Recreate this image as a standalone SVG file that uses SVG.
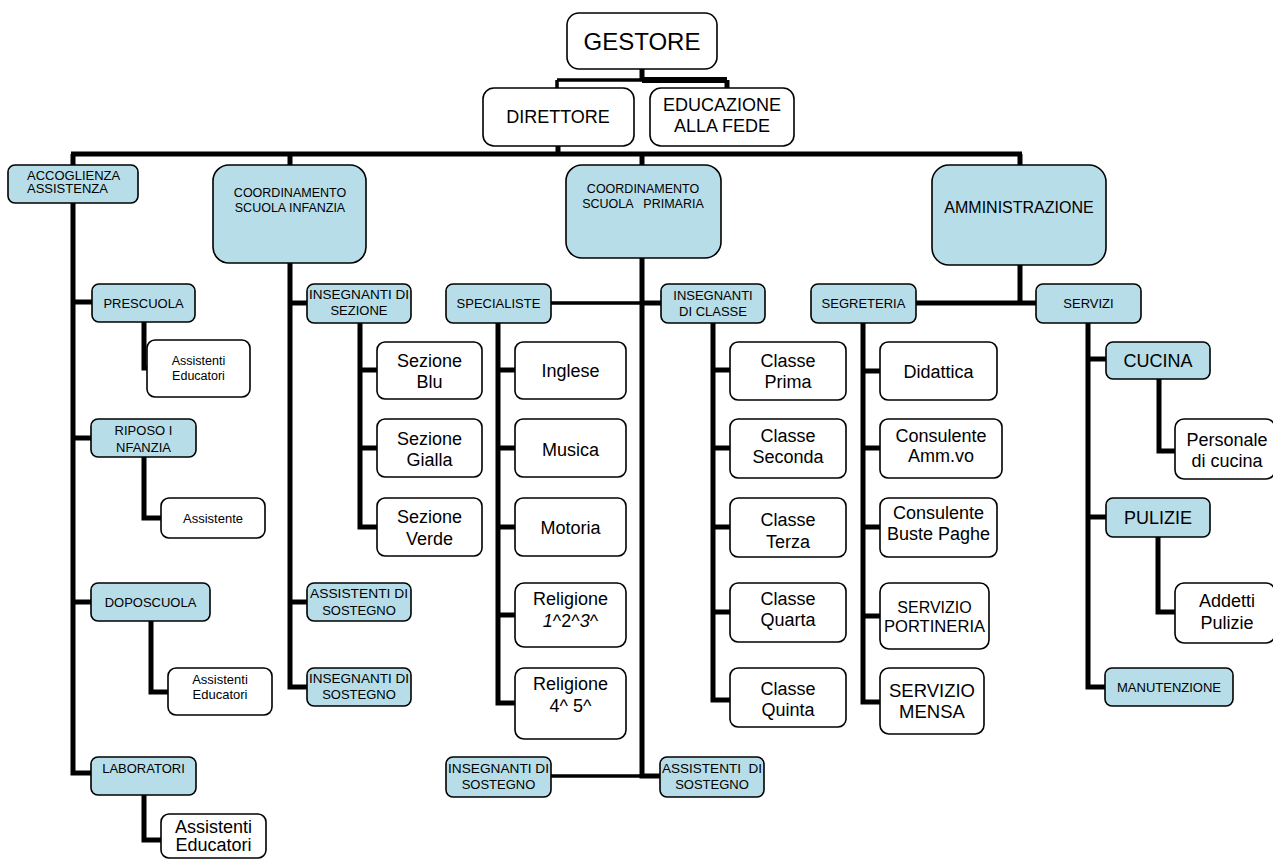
<svg xmlns="http://www.w3.org/2000/svg" width="1273" height="863" viewBox="0 0 1273 863">
<style>
.b{fill:#B7DDE8;stroke:#000;stroke-width:1.6}
.w{fill:#fff;stroke:#000;stroke-width:1.6}
.c{fill:none;stroke:#000;stroke-width:5;stroke-linejoin:miter;stroke-linecap:butt}
.th{stroke-width:3.5}
text{font-family:"Liberation Sans",Arial,sans-serif;text-anchor:middle;fill:#000}
.s12{font-size:12.5px}
.s13{font-size:13px}
.s16{font-size:16px}
.s18{font-size:18px}
.s24{font-size:24px}
</style>
<rect width="1273" height="863" fill="#fff"/>
<g id="connectors">
<path class="c" d="M642,69V80"/>
<path class="c th" d="M557,80H642"/>
<path class="c" style="stroke-width:6" d="M642,80H727"/>
<path class="c th" d="M557,80V88"/>
<path class="c" d="M727,80V88"/>
<path class="c" d="M558,146V154"/>
<path class="c" d="M71,154H1022"/>
<path class="c" d="M73,154V773H91M73,302H92M73,438H91M73,602H91"/>
<path class="c" d="M144,322V368H147"/>
<path class="c" d="M144,457V518H161"/>
<path class="c" d="M151,621V692H168"/>
<path class="c" d="M144,795V840H161"/>
<path class="c" d="M290,154V687H307M290,303H307M290,602H307"/>
<path class="c" d="M360,323V527H377M360,370H377M360,448H377"/>
<path class="c" d="M642,154V776H660M642,303H661"/>
<path class="c th" d="M551,303H642M551,776H642"/>
<path class="c" d="M498,323V703H515M498,370H515M498,448H515M498,527H515M498,615H515"/>
<path class="c" d="M713,323V700H730M713,370H730M713,448H730M713,527H730M713,612H730"/>
<path class="c" d="M1020,154V303M916,303H1036"/>
<path class="c" d="M863,323V702H880M863,371H880M863,448H880M863,527H880M863,616H880"/>
<path class="c" d="M1088,323V687H1105M1088,359H1106M1088,517H1106"/>
<path class="c" d="M1159,379V451H1175"/>
<path class="c" d="M1158,537V612H1175"/>
</g>
<g id="gestore"><rect class="w" x="567" y="13" width="150" height="56" rx="12"/><text class="s24" x="642" y="50">GESTORE</text></g>
<g id="direttore"><rect class="w" x="483" y="88" width="151" height="58" rx="11"/><text class="s18" x="558" y="123">DIRETTORE</text></g>
<g id="educazione"><rect class="w" x="650" y="88" width="144" height="58" rx="11"/><text class="s18" x="722" y="111">EDUCAZIONE</text><text class="s18" x="722" y="132">ALLA FEDE</text></g>
<g id="accoglienza"><rect class="b" x="8" y="165" width="130" height="38" rx="7"/><text class="s13" x="27" y="180" style="text-anchor:start">ACCOGLIENZA</text><text class="s13" x="27" y="193" style="text-anchor:start">ASSISTENZA</text></g>
<g id="coord-infanzia"><rect class="b" x="213" y="165" width="153" height="98" rx="16"/><text class="s12" x="290" y="197">COORDINAMENTO</text><text class="s12" x="290" y="212">SCUOLA INFANZIA</text></g>
<g id="coord-primaria"><rect class="b" x="566" y="165" width="155" height="93" rx="16"/><text class="s12" x="643" y="193">COORDINAMENTO</text><text class="s12" x="643" y="208" xml:space="preserve">SCUOLA   PRIMARIA</text></g>
<g id="amministrazione"><rect class="b" x="932" y="165" width="174" height="100" rx="17"/><text class="s16" x="1019" y="213">AMMINISTRAZIONE</text></g>
<g id="prescuola"><rect class="b" x="92" y="284" width="103" height="38" rx="7"/><text class="s13" x="143.5" y="308">PRESCUOLA</text></g>
<g id="assistenti-pre"><rect class="w" x="147" y="340" width="103" height="57" rx="8"/><text class="s12" x="198.5" y="365">Assistenti</text><text class="s12" x="198.5" y="380">Educatori</text></g>
<g id="riposo"><rect class="b" x="91" y="419" width="105" height="38" rx="7"/><text class="s13" x="143.5" y="435">RIPOSO I</text><text class="s13" x="143.5" y="452">NFANZIA</text></g>
<g id="assistente"><rect class="w" x="161" y="498" width="104" height="40" rx="8"/><text class="s13" x="213" y="523">Assistente</text></g>
<g id="doposcuola"><rect class="b" x="91" y="583" width="119" height="38" rx="7"/><text class="s13" x="150.5" y="607">DOPOSCUOLA</text></g>
<g id="assistenti-dopo"><rect class="w" x="168" y="668" width="104" height="47" rx="8"/><text class="s13" x="220" y="684">Assistenti</text><text class="s13" x="220" y="699">Educatori</text></g>
<g id="laboratori"><rect class="b" x="91" y="757" width="105" height="38" rx="7"/><text class="s13" x="143.5" y="773">LABORATORI</text></g>
<g id="assistenti-lab"><rect class="w" x="161" y="814" width="105" height="44" rx="8"/><text class="s18" x="213.5" y="833">Assistenti</text><text class="s18" x="213.5" y="851">Educatori</text></g>
<g id="ins-sezione"><rect class="b" x="307" y="284" width="104" height="39" rx="7"/><text class="s13" x="359" y="299" textLength="100" lengthAdjust="spacingAndGlyphs">INSEGNANTI DI</text><text class="s13" x="359" y="315">SEZIONE</text></g>
<g id="sez-blu"><rect class="w" x="377" y="342" width="105" height="57" rx="8"/><text class="s18" x="429.5" y="367">Sezione</text><text class="s18" x="429.5" y="388">Blu</text></g>
<g id="sez-gialla"><rect class="w" x="377" y="419" width="105" height="58" rx="8"/><text class="s18" x="429.5" y="445">Sezione</text><text class="s18" x="429.5" y="466">Gialla</text></g>
<g id="sez-verde"><rect class="w" x="377" y="498" width="105" height="58" rx="8"/><text class="s18" x="429.5" y="523">Sezione</text><text class="s18" x="429.5" y="545">Verde</text></g>
<g id="ass-sost-inf"><rect class="b" x="307" y="583" width="104" height="38" rx="7"/><text class="s13" x="359" y="598" textLength="98" lengthAdjust="spacingAndGlyphs">ASSISTENTI DI</text><text class="s13" x="359" y="615">SOSTEGNO</text></g>
<g id="ins-sost-inf"><rect class="b" x="307" y="668" width="104" height="38" rx="7"/><text class="s13" x="359" y="683" textLength="100" lengthAdjust="spacingAndGlyphs">INSEGNANTI DI</text><text class="s13" x="359" y="699">SOSTEGNO</text></g>
<g id="specialiste"><rect class="b" x="446" y="284" width="105" height="39" rx="7"/><text class="s13" x="498.5" y="308">SPECIALISTE</text></g>
<g id="inglese"><rect class="w" x="515" y="342" width="111" height="57" rx="8"/><text class="s18" x="570.5" y="377">Inglese</text></g>
<g id="musica"><rect class="w" x="515" y="419" width="111" height="58" rx="8"/><text class="s18" x="570.5" y="456">Musica</text></g>
<g id="motoria"><rect class="w" x="515" y="498" width="111" height="58" rx="8"/><text class="s18" x="570.5" y="534">Motoria</text></g>
<g id="religione123"><rect class="w" x="515" y="583" width="111" height="64" rx="9"/><text class="s18" x="570.5" y="605">Religione</text><text class="s18" x="570.5" y="627"><tspan font-style="italic">1</tspan>^2^<tspan font-style="italic">3</tspan>^</text></g>
<g id="religione45"><rect class="w" x="515" y="668" width="111" height="71" rx="9"/><text class="s18" x="570.5" y="690">Religione</text><text class="s18" x="570.5" y="712">4^ 5^</text></g>
<g id="ins-sost-prim"><rect class="b" x="446" y="757" width="105" height="40" rx="7"/><text class="s13" x="498.5" y="773" textLength="101" lengthAdjust="spacingAndGlyphs">INSEGNANTI DI</text><text class="s13" x="498.5" y="789">SOSTEGNO</text></g>
<g id="ass-sost-prim"><rect class="b" x="660" y="757" width="104" height="40" rx="7"/><text class="s13" x="712" y="773" xml:space="preserve" textLength="100" lengthAdjust="spacingAndGlyphs">ASSISTENTI  DI</text><text class="s13" x="712" y="789">SOSTEGNO</text></g>
<g id="ins-classe"><rect class="b" x="661" y="284" width="104" height="39" rx="7"/><text class="s13" x="713" y="300">INSEGNANTI</text><text class="s13" x="713" y="316">DI CLASSE</text></g>
<g id="classe-prima"><rect class="w" x="730" y="342" width="116" height="58" rx="8"/><text class="s18" x="788" y="367">Classe</text><text class="s18" x="788" y="388">Prima</text></g>
<g id="classe-seconda"><rect class="w" x="730" y="419" width="116" height="59" rx="8"/><text class="s18" x="788" y="442">Classe</text><text class="s18" x="788" y="463">Seconda</text></g>
<g id="classe-terza"><rect class="w" x="730" y="498" width="116" height="59" rx="8"/><text class="s18" x="788" y="526">Classe</text><text class="s18" x="788" y="548">Terza</text></g>
<g id="classe-quarta"><rect class="w" x="730" y="583" width="116" height="59" rx="8"/><text class="s18" x="788" y="605">Classe</text><text class="s18" x="788" y="626">Quarta</text></g>
<g id="classe-quinta"><rect class="w" x="730" y="668" width="116" height="59" rx="8"/><text class="s18" x="788" y="695">Classe</text><text class="s18" x="788" y="716">Quinta</text></g>
<g id="segreteria"><rect class="b" x="811" y="284" width="105" height="39" rx="7"/><text class="s13" x="863.5" y="308">SEGRETERIA</text></g>
<g id="didattica"><rect class="w" x="880" y="342" width="117" height="58" rx="8"/><text class="s18" x="938.5" y="378">Didattica</text></g>
<g id="cons-amm"><rect class="w" x="880" y="419" width="122" height="59" rx="8"/><text class="s18" x="941" y="442">Consulente</text><text class="s18" x="941" y="462">Amm.vo</text></g>
<g id="cons-buste"><rect class="w" x="880" y="498" width="117" height="59" rx="8"/><text class="s18" x="938.5" y="519">Consulente</text><text class="s18" x="938.5" y="540">Buste Paghe</text></g>
<g id="portineria"><rect class="w" x="880" y="583" width="109" height="66" rx="9"/><text class="s16" x="934.5" y="613">SERVIZIO</text><text style="font-size:16.6px" x="934.5" y="632">PORTINERIA</text></g>
<g id="mensa"><rect class="w" x="880" y="668" width="104" height="66" rx="9"/><text style="font-size:18.5px" x="932" y="697">SERVIZIO</text><text style="font-size:18.5px" x="932" y="718">MENSA</text></g>
<g id="servizi"><rect class="b" x="1036" y="284" width="105" height="39" rx="7"/><text class="s13" x="1088.5" y="308">SERVIZI</text></g>
<g id="cucina"><rect class="b" x="1106" y="342" width="104" height="37" rx="7"/><text class="s18" x="1158" y="367">CUCINA</text></g>
<g id="personale"><rect class="w" x="1175" y="419" width="100" height="60" rx="9"/><text class="s18" x="1227" y="446">Personale</text><text class="s18" x="1227" y="467">di cucina</text></g>
<g id="pulizie"><rect class="b" x="1106" y="498" width="104" height="39" rx="7"/><text class="s18" x="1158" y="524">PULIZIE</text></g>
<g id="addetti"><rect class="w" x="1175" y="583" width="100" height="60" rx="9"/><text class="s18" x="1227" y="607">Addetti</text><text class="s18" x="1227" y="629">Pulizie</text></g>
<g id="manutenzione"><rect class="b" x="1105" y="668" width="128" height="38" rx="7"/><text class="s13" x="1169" y="692">MANUTENZIONE</text></g>
</svg>
